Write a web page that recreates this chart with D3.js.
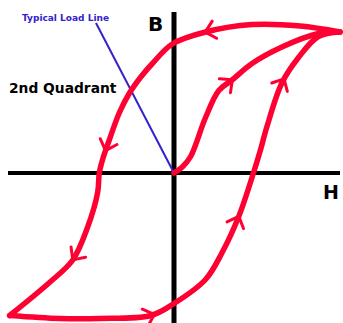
<!DOCTYPE html>
<html>
<head>
<meta charset="utf-8">
<script src="https://cdn.jsdelivr.net/npm/d3@7"></script>
<style>
  body { margin: 0; background: #fff; }
</style>
</head>
<body>
<div id="chart"></div>
<script>
// hysteresis loop, points as [H, B]
const descending = [
  [1.0, 0.94], [0.76, 0.98], [0.47, 0.99], [0.19, 0.94], [-0.01, 0.86],
  [-0.13, 0.73], [-0.20, 0.64], [-0.27, 0.53], [-0.33, 0.40], [-0.39, 0.22],
  [-0.43, 0.09], [-0.45, 0], [-0.46, -0.13], [-0.52, -0.36], [-0.61, -0.58],
  [-0.75, -0.73], [-0.99, -0.95]
];
const ascending = [
  [-0.99, -0.95], [-0.69, -0.97], [-0.45, -0.97], [-0.14, -0.95], [0, -0.87],
  [0.19, -0.71], [0.29, -0.53], [0.39, -0.29], [0.47, -0.03], [0.52, 0.15],
  [0.56, 0.31], [0.65, 0.60], [0.75, 0.77], [0.87, 0.91], [1.0, 0.94]
];
const initial = [
  [0, 0], [0.05, 0.04], [0.10, 0.11], [0.19, 0.37], [0.27, 0.55],
  [0.35, 0.62], [0.47, 0.73], [0.65, 0.84], [0.87, 0.93], [1.0, 0.94]
];
const loadLine = [[-0.47, 1.0], [0, 0]];
// where the direction arrows sit, [branch, H, B]
const arrows = [
  ["descending", 0.19, 0.94], ["descending", -0.41, 0.15], ["descending", -0.61, -0.58],
  ["ascending", -0.12, -0.95], ["ascending", 0.39, -0.29], ["ascending", 0.68, 0.62],
  ["initial", 0.35, 0.62]
];

const width = 343, height = 323;

const svg = d3.select("#chart")
  .append("svg")
    .attr("width", width)
    .attr("height", height);

const x = d3.scaleLinear().domain([-1, 1]).range([8, 340]);
const y = d3.scaleLinear().domain([-1, 1]).range([323, 23]);

// axes
svg.append("line")
  .attr("x1", x(0)).attr("x2", x(0))
  .attr("y1", 12).attr("y2", height)
  .attr("stroke", "#000").attr("stroke-width", 5);
svg.append("line")
  .attr("x1", x(-1)).attr("x2", x(1))
  .attr("y1", y(0)).attr("y2", y(0))
  .attr("stroke", "#000").attr("stroke-width", 4);

// load line
svg.append("path")
  .datum(loadLine)
  .attr("fill", "none")
  .attr("stroke", "#3322cc")
  .attr("stroke-width", 2)
  .attr("d", d3.line().x(d => x(d[0])).y(d => y(d[1])));

const line = d3.line()
  .x(d => x(d[0]))
  .y(d => y(d[1]))
  .curve(d3.curveCatmullRom.alpha(0.5));

const branches = {descending, ascending, initial};
const paths = {};
Object.entries(branches).forEach(([name, pts]) => {
  paths[name] = svg.append("path")
    .datum(pts)
    .attr("fill", "none")
    .attr("stroke", "#ff0033")
    .attr("stroke-width", 5.5)
    .attr("stroke-linecap", "round")
    .attr("stroke-linejoin", "round")
    .attr("d", line)
    .node();
});

// chevron arrows along the branches
arrows.forEach(([name, h, b]) => {
  const p = paths[name];
  const total = p.getTotalLength();
  const tx = x(h), ty = y(b);
  let best = 0, bestD = Infinity;
  for (let l = 0; l <= total; l += 1) {
    const q = p.getPointAtLength(l);
    const d = (q.x - tx) ** 2 + (q.y - ty) ** 2;
    if (d < bestD) { bestD = d; best = l; }
  }
  const a = p.getPointAtLength(Math.max(0, best - 3));
  const c = p.getPointAtLength(Math.min(total, best + 3));
  const ang = Math.atan2(c.y - a.y, c.x - a.x);
  const tip = p.getPointAtLength(best);
  const len = 13, spread = 0.75;
  [ang + Math.PI - spread, ang + Math.PI + spread].forEach(t => {
    svg.append("line")
      .attr("x1", tip.x).attr("y1", tip.y)
      .attr("x2", tip.x + len * Math.cos(t))
      .attr("y2", tip.y + len * Math.sin(t))
      .attr("stroke", "#ff0033")
      .attr("stroke-width", 3)
      .attr("stroke-linecap", "round");
  });
});

// labels
svg.append("text")
  .attr("x", 148).attr("y", 31)
  .style("font-family", "DejaVu Sans")
  .style("font-weight", "bold")
  .style("font-size", "20px")
  .text("B");
svg.append("text")
  .attr("x", 323).attr("y", 199)
  .style("font-family", "DejaVu Sans")
  .style("font-weight", "bold")
  .style("font-size", "19px")
  .text("H");
svg.append("text")
  .attr("x", 9).attr("y", 93)
  .style("font-family", "DejaVu Sans")
  .style("font-weight", "bold")
  .style("font-size", "13.8px")
  .text("2nd Quadrant");
svg.append("text")
  .attr("x", 22).attr("y", 21)
  .attr("fill", "#3322cc")
  .style("font-family", "DejaVu Sans")
  .style("font-weight", "bold")
  .style("font-size", "9px")
  .text("Typical Load Line");
</script>
</body>
</html>
